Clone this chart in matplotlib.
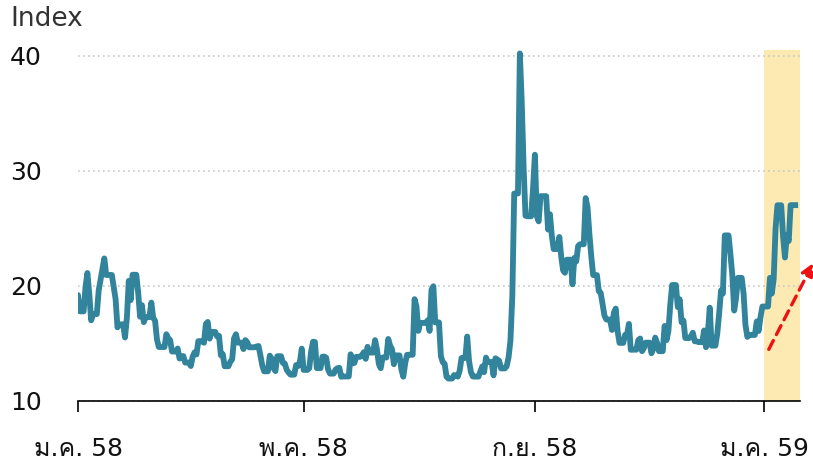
import numpy as np
import pandas as pd
import matplotlib
matplotlib.use('Agg')
import matplotlib.pyplot as plt
from matplotlib import font_manager
from matplotlib.ft2font import FT2Font

# ดัชนีรายวัน (ปิดตลาด) ธ.ค. 57 - ม.ค. 59
start_value = [19.20]
jan15 = [17.79, 19.92, 21.12, 19.31, 17.01, 17.55, 19.60, 20.56, 21.48, 22.39,
         20.95, 19.89, 18.85, 16.40, 16.66, 15.52, 17.22, 20.44, 18.76, 20.97]
feb15 = [19.43, 17.33, 18.33, 16.85, 17.29, 18.55, 17.23, 16.96, 15.34, 14.69,
         15.80, 15.45, 15.29, 14.30, 14.56, 13.69, 13.84, 13.91, 13.34]
mar15 = [13.04, 13.86, 14.23, 14.04, 15.20, 15.06, 16.69, 16.87, 15.42, 16.00,
         15.61, 15.66, 13.97, 14.07, 13.02, 13.41, 13.62, 15.44, 15.80, 15.07,
         14.51, 15.29]
apr15 = [15.11, 14.67, 14.74, 14.78, 13.98, 13.09, 12.58, 13.94, 13.67, 12.84,
         12.60, 13.89, 13.30, 13.25, 12.71, 12.48, 12.29, 13.12, 13.03, 13.39,
         14.55]
may15 = [12.70, 12.85, 14.31, 15.15, 15.13, 12.86, 13.85, 13.86, 13.76, 12.74,
         12.38, 12.73, 12.85, 12.88, 12.11, 12.13, 14.06, 13.27, 13.31, 13.84]
jun15 = [13.97, 14.24, 13.66, 14.71, 14.21, 15.29, 14.47, 13.22, 12.85, 13.78,
         15.39, 14.81, 14.50, 13.19, 13.96, 12.74, 12.11, 13.26, 14.01, 14.02,
         18.85, 18.23]
jul15 = [16.09, 16.79, 17.01, 16.09, 19.66, 19.97, 16.83, 13.90, 13.37, 13.23,
         12.11, 11.95, 12.25, 12.22, 12.12, 12.64, 13.74, 15.60, 13.44, 12.50,
         12.13, 12.12]
aug15 = [12.56, 13.00, 12.51, 13.77, 13.39, 12.23, 13.71, 13.61, 13.49, 12.83,
         13.02, 13.79, 15.25, 19.14, 28.03, 40.20, 36.02, 30.32, 26.10, 26.05,
         28.43]
sep15 = [31.40, 26.09, 25.61, 27.80, 24.90, 26.23, 24.37, 23.20, 24.25, 22.54,
         21.35, 21.14, 22.28, 20.14, 22.44, 22.13, 23.47, 23.62, 27.63, 26.83,
         24.50]
oct15 = [22.55, 20.94, 19.54, 19.40, 18.40, 17.42, 17.08, 16.17, 17.67, 18.03,
         16.05, 15.05, 15.75, 15.75, 16.70, 14.45, 14.46, 15.29, 15.43, 14.33,
         14.61, 15.07]
nov15 = [14.15, 14.54, 15.51, 15.05, 14.33, 16.52, 15.29, 16.06, 18.37, 20.08,
         18.16, 18.84, 16.85, 16.99, 15.47, 15.62, 15.93, 15.19, 15.12, 16.13]
dec15 = [14.67, 15.91, 18.11, 14.81, 15.84, 17.60, 19.61, 19.34, 24.39, 22.73,
         20.95, 17.86, 18.94, 20.70, 19.32, 16.60, 15.57, 15.74, 16.91, 16.08,
         17.29, 18.21]
jan16 = [20.70, 19.34, 20.59, 24.99, 27.01, 24.30, 22.47, 24.40, 23.90, 27.02]

# วันหยุดตลาด
holidays = ['2015-01-01', '2015-01-19', '2015-02-16', '2015-04-03', '2015-05-25',
            '2015-07-03', '2015-09-07', '2015-11-26', '2015-12-25',
            '2016-01-01', '2016-01-18']

tick_dates = ['2015-01-01', '2015-05-01', '2015-09-01', '2016-01-01']
tick_labels = ['ม.ค. 58', 'พ.ค. 58', 'ก.ย. 58', 'ม.ค. 59']
y_ticks = [10, 20, 30, 40]
highlight_start = '2016-01-01'
x_start, x_end = '2015-01-01', '2016-01-20'

values = (start_value + jan15 + feb15 + mar15 + apr15 + may15 + jun15 + jul15
          + aug15 + sep15 + oct15 + nov15 + dec15 + jan16)
dates = pd.bdate_range('2014-12-31', '2016-01-15', freq='C', holidays=holidays)
s = pd.Series(values, index=dates)
# วันที่ไม่มีการซื้อขายใช้ค่าล่าสุด
s = s.reindex(pd.date_range('2014-12-31', '2016-01-19')).ffill()


def find_thai_font():
    for f in font_manager.fontManager.ttflist:
        try:
            if 0x0E21 in FT2Font(f.fname).get_charmap():
                return f.name
        except Exception:
            continue
    return None


thai = find_thai_font()
families = ['DejaVu Sans'] + ([thai] if thai else [])
plt.rcParams['font.family'] = families

fig = plt.figure(figsize=(8.13, 4.63), dpi=100)
ax = fig.add_axes([78 / 813, 62 / 463, 722 / 813, 351 / 463])

ax.axvspan(pd.Timestamp(highlight_start), pd.Timestamp(x_end),
           color='#fdeab3', lw=0, zorder=0)
ax.plot(s.index, s.values, color='#31849b', lw=4.2, solid_joinstyle='round',
        solid_capstyle='butt', zorder=3)

ax.set_xlim(pd.Timestamp(x_start), pd.Timestamp(x_end))
ax.set_ylim(10, 40.5)

ax.set_xticks([pd.Timestamp(d) for d in tick_dates])
ax.set_xticklabels(tick_labels)
ax.set_yticks(y_ticks)
ax.set_yticklabels([str(v) for v in y_ticks])

for sp in ['top', 'right', 'left']:
    ax.spines[sp].set_visible(False)
ax.spines['bottom'].set_linewidth(1.2)
ax.spines['bottom'].set_zorder(4)

ax.tick_params(axis='x', length=8, width=1.2, pad=18, labelsize=18,
               labelcolor='#111111')
ax.tick_params(axis='y', length=0, pad=49, labelsize=18, labelcolor='#111111')
for lab in ax.get_yticklabels():
    lab.set_horizontalalignment('left')

ax.grid(axis='y', color='#c8c8c8', linestyle=(0, (1, 2)), lw=1.2)
ax.grid(axis='x', visible=False)
ax.set_axisbelow(True)

fig.text(10 / 813, 1 - 19 / 463, 'Index', fontsize=19, color='#333333',
         va='center', ha='left')

# ลูกศรแนวโน้ม
ax.annotate('', xy=(1.02, 0.40), xytext=(0.955, 0.14), xycoords='axes fraction',
            arrowprops=dict(arrowstyle='-|>', color='#ee1111', lw=2.4,
                            linestyle=(0, (3, 2)), mutation_scale=18),
            annotation_clip=False)

fig.savefig('out.png', dpi=100)
